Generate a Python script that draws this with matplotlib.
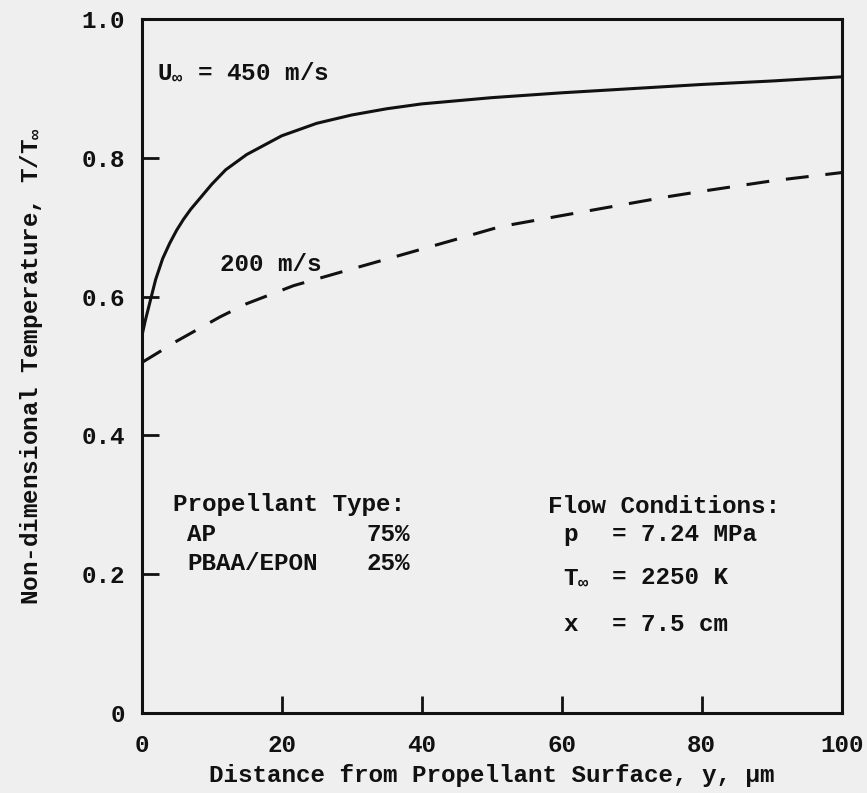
import matplotlib.pyplot as plt

dist_450 = [0, 0.5, 1, 1.5, 2, 3, 4, 5, 6, 7, 8, 10, 12, 15, 20, 25, 30, 35, 40,
            50, 60, 70, 80, 90, 100]
temp_450 = [0.542, 0.565, 0.585, 0.605, 0.625, 0.655, 0.677, 0.696, 0.712, 0.726,
            0.738, 0.762, 0.783, 0.805, 0.832, 0.850, 0.862, 0.871, 0.878,
            0.887, 0.894, 0.900, 0.906, 0.911, 0.917]

dist_200 = [0, 2.6, 5, 11.2, 15, 21.7, 30, 37, 45, 51.2, 60, 75, 80, 90, 100]
temp_200 = [0.505, 0.521, 0.536, 0.571, 0.59, 0.616, 0.64, 0.66, 0.683, 0.701,
            0.717, 0.744, 0.752, 0.767, 0.779]

xticks = [0, 20, 40, 60, 80, 100]
yticks = [0, 0.2, 0.4, 0.6, 0.8, 1.0]
ytick_labels = ["0", "0.2", "0.4", "0.6", "0.8", "1.0"]

PAPER = "#efefef"
INK = "#111111"
FONT = "Liberation Mono"
FS = 17.5

plt.rcParams["font.family"] = [FONT, "DejaVu Sans"]
plt.rcParams["font.weight"] = "bold"
plt.rcParams["axes.labelweight"] = "bold"
plt.rcParams["mathtext.fontset"] = "custom"
plt.rcParams["mathtext.rm"] = FONT + ":bold"
plt.rcParams["mathtext.it"] = FONT + ":bold"
plt.rcParams["mathtext.bf"] = FONT + ":bold"

fig = plt.figure(figsize=(8.67, 7.93), dpi=100, facecolor=PAPER)
ax = fig.add_axes([0.1634, 0.1009, 0.8074, 0.8748], facecolor=PAPER)

ax.plot(dist_450, temp_450, color=INK, lw=2.2, solid_capstyle="butt")
ax.plot(dist_200, temp_200, color=INK, lw=2.2, dashes=(7.5, 5.5))

ax.set_xlim(0, 100)
ax.set_ylim(0, 1.0)
ax.set_xticks(xticks)
ax.set_yticks(yticks)
ax.set_yticklabels(ytick_labels)
ax.tick_params(direction="in", length=12, width=2.0, colors=INK,
               labelsize=FS, top=False, right=False)
ax.tick_params(axis="y", pad=12)
ax.tick_params(axis="x", pad=15)
for s in ax.spines.values():
    s.set_linewidth(2.2)
    s.set_color(INK)

ax.set_xlabel("Distance from Propellant Surface, y, \u00b5m", fontsize=FS,
              color=INK, labelpad=5)
ax.set_ylabel(r"Non-dimensional Temperature, T/T$_{\infty}$", fontsize=FS,
              color=INK, labelpad=26)

kw = dict(fontsize=FS, color=INK, va="center")
ax.text(2.2, 0.924, r"U$_{\infty}$ = 450 m/s", **kw)
ax.text(11.2, 0.646, "200 m/s", **kw)

ax.text(4.5, 0.300, "Propellant Type:", **kw)
ax.text(6.5, 0.257, "AP", **kw)
ax.text(38.3, 0.257, "75%", ha="right", **kw)
ax.text(6.5, 0.216, "PBAA/EPON", **kw)
ax.text(38.3, 0.216, "25%", ha="right", **kw)

ax.text(58.0, 0.297, "Flow Conditions:", **kw)
ax.text(60.2, 0.257, "p", **kw)
ax.text(67.2, 0.257, "= 7.24 MPa", **kw)
ax.text(60.2, 0.195, r"T$_{\infty}$", **kw)
ax.text(67.2, 0.195, "= 2250 K", **kw)
ax.text(60.2, 0.127, "x", **kw)
ax.text(67.2, 0.127, "= 7.5 cm", **kw)

fig.savefig("out.png", dpi=100, facecolor=PAPER)
